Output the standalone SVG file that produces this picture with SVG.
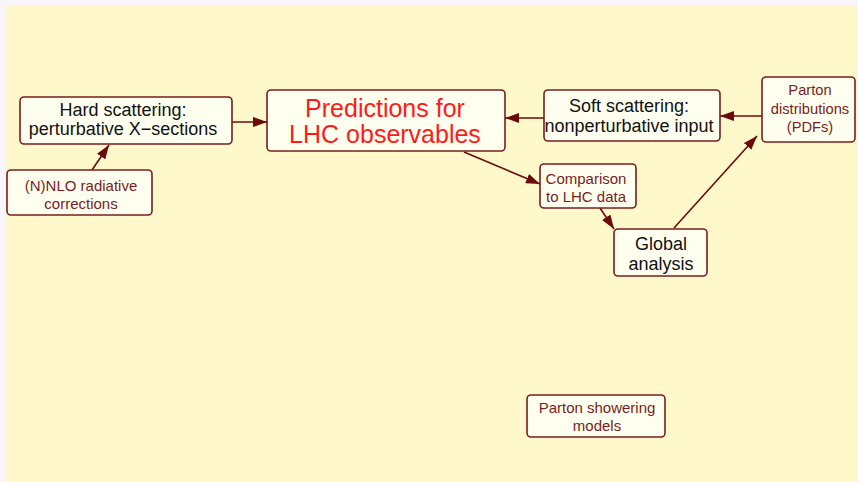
<svg xmlns="http://www.w3.org/2000/svg" width="858" height="482" viewBox="0 0 858 482">
<style>
.box{fill:#fffff0;stroke:#7a1c1c;stroke-width:1.6}
.t{font-family:"Liberation Sans",Arial,sans-serif;text-anchor:middle}
.blk{fill:#111}
.dr{fill:#7a1c1c}
.red{fill:#ff1a1a}
.c{stroke:#6b0a0a;stroke-width:1.6;fill:none;marker-end:url(#ah)}
</style>
<defs>
<marker id="ah" viewBox="0 0 14 10" refX="14" refY="5" markerWidth="14" markerHeight="10" markerUnits="userSpaceOnUse" orient="auto">
<path d="M0,0 L14,5 L0,10 z" fill="#6b0a0a"/>
</marker>
</defs>
<rect x="0" y="0" width="858" height="482" fill="#f8f6fc"/>
<rect x="5" y="5" width="853" height="477" fill="#fef8cb"/>
<g id="connectors">
<line class="c" x1="232" y1="122" x2="267" y2="122"/>
<line class="c" x1="92" y1="170" x2="109" y2="145"/>
<line class="c" x1="544" y1="118" x2="505" y2="118"/>
<line class="c" x1="762" y1="116" x2="720" y2="116"/>
<line class="c" x1="464" y1="152" x2="540" y2="184"/>
<line class="c" x1="600" y1="208" x2="614" y2="229"/>
<line class="c" x1="674" y1="228" x2="757" y2="136"/>
</g>
<g id="hard">
<rect class="box" x="20" y="97" width="212" height="47" rx="4"/>
<text class="t blk" x="123" y="116" font-size="18">Hard scattering:</text>
<text class="t blk" x="123" y="135" font-size="18">perturbative X−sections</text>
</g>
<g id="predictions">
<rect class="box" x="267" y="90" width="238" height="61" rx="4"/>
<text class="t red" x="385" y="117" font-size="25">Predictions for</text>
<text class="t red" x="385" y="143" font-size="25">LHC observables</text>
</g>
<g id="soft">
<rect class="box" x="544" y="90" width="176" height="51" rx="4"/>
<text class="t blk" x="629" y="112" font-size="18">Soft scattering:</text>
<text class="t blk" x="629" y="132" font-size="18">nonperturbative input</text>
</g>
<g id="pdf">
<rect class="box" x="762" y="77" width="93" height="65" rx="4"/>
<text class="t dr" x="810" y="95" font-size="14.7">Parton</text>
<text class="t dr" x="810" y="114" font-size="14.7">distributions</text>
<text class="t dr" x="810" y="132" font-size="14.7">(PDFs)</text>
</g>
<g id="nnlo">
<rect class="box" x="7" y="170" width="145" height="45" rx="4"/>
<text class="t dr" x="81" y="191" font-size="15">(N)NLO radiative</text>
<text class="t dr" x="81" y="209" font-size="15">corrections</text>
</g>
<g id="comparison">
<rect class="box" x="540" y="164" width="96" height="44" rx="4"/>
<text class="t dr" x="586" y="184" font-size="15">Comparison</text>
<text class="t dr" x="586" y="202" font-size="15">to LHC data</text>
</g>
<g id="global">
<rect class="box" x="614" y="229" width="93" height="47" rx="4"/>
<text class="t blk" x="661" y="250" font-size="18">Global</text>
<text class="t blk" x="661" y="270" font-size="18">analysis</text>
</g>
<g id="showering">
<rect class="box" x="527" y="395" width="138" height="42" rx="4"/>
<text class="t dr" x="597" y="413" font-size="15">Parton showering</text>
<text class="t dr" x="597" y="431" font-size="15">models</text>
</g>
</svg>
